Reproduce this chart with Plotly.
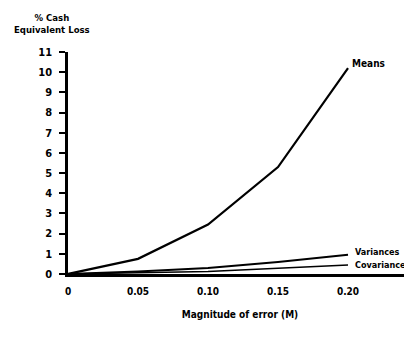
import plotly.graph_objects as go

x_vals = [0, 0.05, 0.10, 0.15, 0.20]
means = [0, 0.75, 2.45, 5.3, 10.2]
variances = [0, 0.12, 0.3, 0.6, 0.95]
covariances = [0, 0.05, 0.13, 0.28, 0.45]
series_names = ["Means", "Variances", "Covariances"]
x_ticks = [0, 0.05, 0.10, 0.15, 0.20]
x_tick_labels = ["0", "0.05", "0.10", "0.15", "0.20"]
y_ticks = list(range(0, 12))

FONT = "DejaVu Sans Condensed, Liberation Sans Narrow, sans-serif"
widths = {"Means": 2.2, "Variances": 2.0, "Covariances": 1.5}
shifts = {"Means": 5, "Variances": 3, "Covariances": 0}
xshifts = {"Means": 2, "Variances": 5, "Covariances": 5}
sizes = {"Means": 10, "Variances": 9, "Covariances": 9}

fig = go.Figure()
for name, ys in zip(series_names, [means, variances, covariances]):
    fig.add_trace(go.Scatter(x=x_vals, y=ys, mode="lines", name=name,
                             line=dict(color="black", width=widths[name])))
    fig.add_annotation(x=x_vals[-1], y=ys[-1], text="<b>%s</b>" % name, showarrow=False,
                       xanchor="left", xshift=xshifts[name], yshift=shifts[name],
                       font=dict(family=FONT, size=sizes[name], color="black"))

fig.update_layout(
    width=412, height=349,
    margin=dict(l=60, r=8, t=44, b=83, autoexpand=False),
    paper_bgcolor="white", plot_bgcolor="white",
    showlegend=False,
    font=dict(family=FONT, size=11, color="black"),
    xaxis=dict(range=[0, 0.2457], tickvals=x_ticks, ticktext=["<b>%s</b>" % t for t in x_tick_labels],
               showline=True, linecolor="black", linewidth=2.5, ticks="", ticklabelstandoff=6,
               showgrid=False, zeroline=False, automargin=False,
               tickfont=dict(size=10),
               title=dict(text="<b>Magnitude of error (M)</b>", font=dict(size=10), standoff=16)),
    yaxis=dict(range=[0, 11], tickvals=y_ticks, ticktext=["<b>%d</b>" % v for v in y_ticks],
               showline=True, linecolor="black", linewidth=2.5, ticks="outside", ticklen=6,
               tickwidth=1.5, tickcolor="black", showgrid=False, zeroline=False, automargin=False,
               ticklabelstandoff=5, tickfont=dict(size=11)),
)
fig.add_annotation(xref="paper", yref="paper", x=0, y=1, yshift=15, xshift=-16,
                   text="<b>% Cash<br>Equivalent Loss</b>", showarrow=False,
                   xanchor="center", yanchor="bottom", align="center",
                   font=dict(family=FONT, size=9.5, color="black"))
fig.write_html("out.html")
